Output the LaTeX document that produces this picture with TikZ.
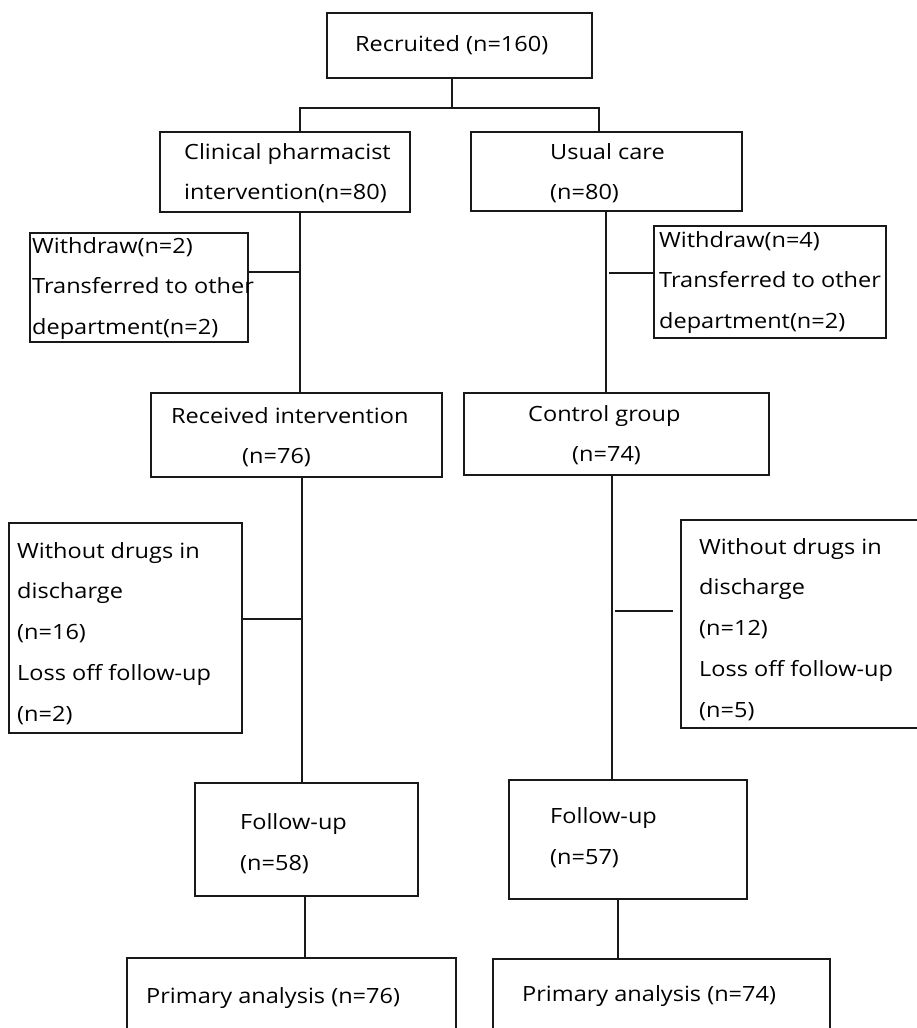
\documentclass[tikz,border=0pt]{standalone}
\usepackage{fontspec}
\setmainfont[FakeStretch=1.12]{Open Sans}
\begin{document}
\begin{tikzpicture}[x=1pt,y=-1pt,
  boxline/.style={draw=black!90, line width=1.4pt},
  conn/.style={draw=black!90, line width=1.1pt},
  txt/.style={anchor=base west, inner sep=0pt, font=\fontsize{21}{25}\selectfont, text=black}]
\useasboundingbox (0,0) rectangle (917,1028);
% boxes
\node[boxline, inner sep=0pt, minimum width=265pt, minimum height=65pt] (rec) at (459.5,45.5) {};
\node[boxline, inner sep=0pt, minimum width=250pt, minimum height=80pt] (cpi) at (285,172) {};
\node[boxline, inner sep=0pt, minimum width=271pt, minimum height=79pt] (uc) at (606.5,171.5) {};
\node[boxline, inner sep=0pt, minimum width=218pt, minimum height=109pt] (wl) at (139,287.5) {};
\node[boxline, inner sep=0pt, minimum width=232pt, minimum height=112pt] (wr) at (770,282) {};
\node[boxline, inner sep=0pt, minimum width=291pt, minimum height=84pt] (ri) at (296.5,435) {};
\node[boxline, inner sep=0pt, minimum width=305pt, minimum height=82pt] (cg) at (616.5,434) {};
\node[boxline, inner sep=0pt, minimum width=233pt, minimum height=210pt] (wdl) at (125.5,628) {};
\node[boxline, inner sep=0pt, minimum width=249pt, minimum height=208pt] (wdr) at (805.5,624) {};
\node[boxline, inner sep=0pt, minimum width=223pt, minimum height=113pt] (ful) at (306.5,839.5) {};
\node[boxline, inner sep=0pt, minimum width=238pt, minimum height=119pt] (fur) at (628,839.5) {};
\node[boxline, inner sep=0pt, minimum width=329pt, minimum height=82pt] (pal) at (291.5,999) {};
\node[boxline, inner sep=0pt, minimum width=337pt, minimum height=81pt] (par) at (661.5,999.5) {};
% texts
\node[txt] (t1) at (355,51) {Recruited (n=160)};
\node[txt] (t2) at (184,159) {Clinical pharmacist};
\node[txt] (t3) at (184,199) {intervention(n=80)};
\node[txt] (t4) at (550,159) {Usual care};
\node[txt] (t5) at (550,199) {(n=80)};
\node[txt] (t6) at (32,253) {Withdraw(n=2)};
\node[txt] (t7) at (32,293) {Transferred to other};
\node[txt] (t8) at (32,334) {department(n=2)};
\node[txt] (t9) at (659,247) {Withdraw(n=4)};
\node[txt] (t10) at (659,287) {Transferred to other};
\node[txt] (t11) at (659,328) {department(n=2)};
\node[txt] (t12) at (171,423) {Received intervention};
\node[txt] (t13) at (242,463) {(n=76)};
\node[txt] (t14) at (528,421) {Control group};
\node[txt] (t15) at (572,461) {(n=74)};
\node[txt] (t16) at (17,558) {Without drugs in};
\node[txt] (t17) at (17,598) {discharge};
\node[txt] (t18) at (17,639) {(n=16)};
\node[txt] (t19) at (17,680) {Loss off follow-up};
\node[txt] (t20) at (17,721) {(n=2)};
\node[txt] (t21) at (699,554) {Without drugs in};
\node[txt] (t22) at (699,594) {discharge};
\node[txt] (t23) at (699,635) {(n=12)};
\node[txt] (t24) at (699,676) {Loss off follow-up};
\node[txt] (t25) at (699,717) {(n=5)};
\node[txt] (t26) at (240,829) {Follow-up};
\node[txt] (t27) at (240,870) {(n=58)};
\node[txt] (t28) at (550,823) {Follow-up};
\node[txt] (t29) at (550,864) {(n=57)};
\node[txt] (t30) at (146,1003) {Primary analysis (n=76)};
\node[txt] (t31) at (522,1001) {Primary analysis (n=74)};
% connector coordinates
\coordinate (j) at (452,108);
\coordinate (b1) at (300,108);
\coordinate (b2) at (599,108);
\coordinate (l1) at (300,272);
\coordinate (r1) at (606,273);
\coordinate (r1s) at (609,273);
\coordinate (l2) at (302,619);
\coordinate (r2) at (612,611);
\coordinate (r2s) at (615,611);
\coordinate (r2e) at (673,611);
\coordinate (l3) at (305,900);
\coordinate (r3) at (618,900);
% connectors
\draw[conn] (j |- rec.south) -- (j);
\draw[conn] (b1 |- cpi.north) -- (b1) -- (b2) -- (b2 |- uc.north);
\draw[conn] (l1 |- cpi.south) -- (l1 |- ri.north);
\draw[conn] (l1) -- (l1 -| wl.east);
\draw[conn] (r1 |- uc.south) -- (r1 |- cg.north);
\draw[conn] (r1s) -- (r1s -| wr.west);
\draw[conn] (l2 |- ri.south) -- (l2 |- ful.north);
\draw[conn] (l2) -- (l2 -| wdl.east);
\draw[conn] (r2 |- cg.south) -- (r2 |- fur.north);
\draw[conn] (r2s) -- (r2e);
\draw[conn] (l3 |- ful.south) -- (l3 |- pal.north);
\draw[conn] (r3 |- fur.south) -- (r3 |- par.north);
\end{tikzpicture}
\end{document}
